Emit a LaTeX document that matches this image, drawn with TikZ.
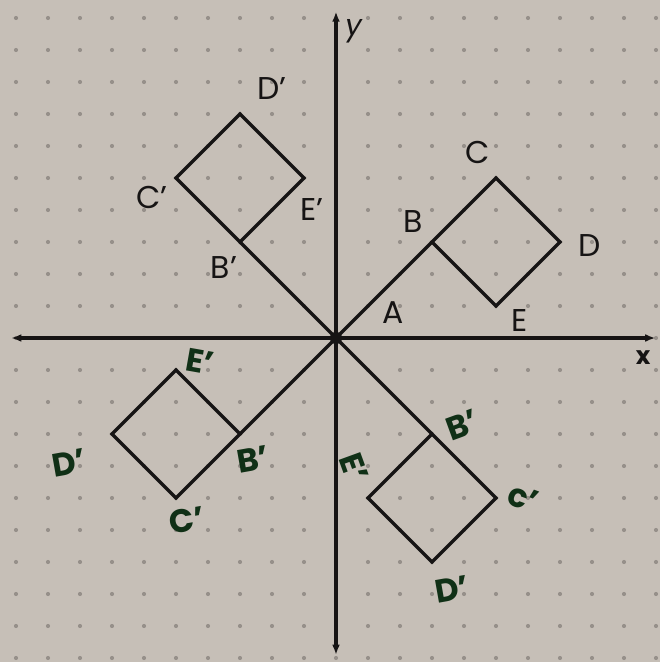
\documentclass[tikz,border=0pt]{standalone}
\usepackage{fontspec}
\setmainfont{Poppins}
\usetikzlibrary{arrows.meta}
\definecolor{paper}{RGB}{198,191,183}
\definecolor{dotc}{RGB}{150,144,138}
\definecolor{ink}{RGB}{22,20,20}
\definecolor{marker}{RGB}{16,48,22}
\tikzset{
  axisline/.style={line width=3.4pt, draw=ink, {Latex[length=9pt,width=7pt]}-{Latex[length=9pt,width=7pt]}},
  sqline/.style={line width=3.1pt, draw=ink, line join=miter},
  rayline/.style={line width=3.1pt, draw=ink},
  blab/.style={text=ink, font=\fontsize{28}{30}\selectfont, inner sep=0pt},
  glab/.style={text=marker, font=\fontsize{29}{31}\selectfont\bfseries, inner sep=0pt},
}
\begin{document}
\begin{tikzpicture}[x=1cm,y=1cm]
\fill[paper] (-10.5,-10.125) rectangle (10.125,10.5625);
\useasboundingbox (-10.5,-10.125) rectangle (10.125,10.5625);
\foreach \i in {-10,...,10}{\foreach \j in {-10,...,10}{\fill[dotc] (\i,\j) circle (0.065);}}
% axes
\coordinate (xl) at (-10.15,0); \coordinate (xr) at (9.98,0);
\coordinate (yt) at (0,10.2); \coordinate (yb) at (0,-9.9);
\coordinate (O) at (0,0);
\draw[axisline] (xl) -- (xr);
\draw[axisline] (yb) -- (yt);
\node[text=ink, font=\fontsize{26}{28}\selectfont\itshape, inner sep=0pt] (ylab) at (0.55,9.6) {y};
\node[text=ink, font=\fontsize{22}{24}\selectfont\bfseries, inner sep=0pt] (xlab) at (9.6,-0.6) {x};
% original square
\coordinate (B) at (3,3); \coordinate (C) at (5,5); \coordinate (D) at (7,3); \coordinate (E) at (5,1);
% 90 deg
\coordinate (B1) at (-3,3); \coordinate (C1) at (-5,5); \coordinate (D1) at (-3,7); \coordinate (E1) at (-1,5);
% 180 deg
\coordinate (B2) at (-3,-3); \coordinate (C2) at (-5,-5); \coordinate (D2) at (-7,-3); \coordinate (E2) at (-5,-1);
% 270 deg
\coordinate (B3) at (3,-3); \coordinate (C3) at (5,-5); \coordinate (D3) at (3,-7); \coordinate (E3) at (1,-5);
\draw[rayline] (O) -- (B); \draw[rayline] (O) -- (B1); \draw[rayline] (O) -- (B2); \draw[rayline] (O) -- (B3);
\draw[sqline] (B) -- (C) -- (D) -- (E) -- cycle;
\draw[sqline] (B1) -- (C1) -- (D1) -- (E1) -- cycle;
\draw[sqline] (B2) -- (C2) -- (D2) -- (E2) -- cycle;
\draw[sqline] (B3) -- (C3) -- (D3) -- (E3) -- cycle;
\fill[ink] (O) circle (0.19);
% black labels
\node[blab] (lA) at (1.78,0.8) {A};
\node[blab] (lB) at (2.4,3.63) {B};
\node[blab] (lC) at (4.44,5.81) {C};
\node[blab] (lD) at (7.94,2.9) {D};
\node[blab] (lE) at (5.75,0.56) {E};
\node[blab] (lD1) at (-2.0,7.8) {D'};
\node[blab] (lC1) at (-5.75,4.4) {C'};
\node[blab] (lE1) at (-0.75,4.0) {E'};
\node[blab] (lB1) at (-3.5,2.2) {B'};
% green labels
\node[glab,rotate=-10] (lE2) at (-4.25,-0.75) {E'};
\node[glab,rotate=10] (lD2) at (-8.35,-3.9) {D'};
\node[glab,rotate=10] (lB2) at (-2.6,-3.8) {B'};
\node[glab,rotate=10] (lC2) at (-4.65,-5.7) {C'};
\node[glab,rotate=20] (lB3) at (3.95,-2.72) {B'};
\node[glab,rotate=-70] (lE3) at (0.55,-4.05) {E'};
\node[glab,rotate=-20] (lC3) at (5.85,-5.0) {c'};
\node[glab,rotate=10] (lD3) at (3.62,-7.85) {D'};
\end{tikzpicture}
\end{document}
